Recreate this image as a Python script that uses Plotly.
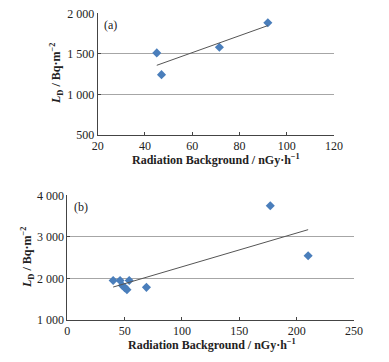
import numpy as np
import plotly.graph_objects as go

# Panel (a)
a_x = [45, 47, 71.5, 92]
a_y = [1512, 1244, 1582, 1884]
# Panel (b)
b_x = [40, 46, 48, 50, 52, 54, 69, 177, 210]
b_y = [1950, 1950, 1830, 1780, 1730, 1950, 1785, 3750, 2545]

x_title = "<b>Radiation Background / nGy·h<sup>−1</sup></b>"
y_title = "<b><i>L</i><sub>D</sub> / Bq·m<sup>−2</sup></b>"

W, H = 389, 362
SERIF = "Liberation Serif"
MARK = "#4a7ebb"

def trend(x, y):
    k, b = np.polyfit(x, y, 1)
    xs = np.array([min(x), max(x)])
    return xs, k * xs + b

fig = go.Figure()
fig.add_trace(go.Scatter(x=a_x, y=a_y, mode="markers", xaxis="x", yaxis="y",
                         marker=dict(symbol="diamond", size=7, color=MARK), showlegend=False))
tx, ty = trend(a_x, a_y)
fig.add_trace(go.Scatter(x=tx, y=ty, mode="lines", xaxis="x", yaxis="y",
                         line=dict(color="#555555", width=1), showlegend=False))
fig.add_trace(go.Scatter(x=b_x, y=b_y, mode="markers", xaxis="x2", yaxis="y2",
                         marker=dict(symbol="diamond", size=7, color=MARK), showlegend=False))
tx, ty = trend(b_x, b_y)
fig.add_trace(go.Scatter(x=tx, y=ty, mode="lines", xaxis="x2", yaxis="y2",
                         line=dict(color="#555555", width=1), showlegend=False))

def px(x):
    return x / W

def py(y):
    return 1 - y / H

common_x = dict(showgrid=False, zeroline=False, showline=True, linecolor="#444444", linewidth=1,
                ticks="inside", ticklen=3, tickcolor="#444444", automargin=False,
                tickfont=dict(family=SERIF, size=12, color="#222222"))
common_y = dict(showgrid=True, gridcolor="#a6a6a6", gridwidth=1, zeroline=False, showline=True,
                linecolor="#444444", linewidth=1, ticks="inside", ticklen=3, tickcolor="#444444",
                automargin=False, tickfont=dict(family=SERIF, size=12, color="#222222"))

def ann(text, x, y, angle=0):
    return dict(text=text, x=px(x), y=py(y), xref="paper", yref="paper", showarrow=False,
                xanchor="center", yanchor="middle", textangle=angle,
                font=dict(family=SERIF, size=12, color="#222222"))

fig.update_layout(
    template="none",
    width=W, height=H, margin=dict(l=0, r=0, t=0, b=0, pad=0),
    paper_bgcolor="white", plot_bgcolor="white",
    font=dict(family=SERIF, size=12, color="#222222"),
    separators=". ",
    xaxis=dict(domain=[px(97.7), px(334)], range=[20, 120], dtick=20, anchor="y", **common_x),
    yaxis=dict(domain=[py(135), py(13.3)], range=[500, 2000], dtick=500, tickformat=",d",
               anchor="x", **common_y),
    xaxis2=dict(domain=[px(67.3), px(354)], range=[0, 250], dtick=50, anchor="y2", **common_x),
    yaxis2=dict(domain=[py(320), py(195.3)], range=[1000, 4000], dtick=1000, tickformat=",d",
                anchor="x2", **common_y),
    annotations=[
        ann(x_title, 216, 159),
        ann(y_title, 56, 74, -90),
        ann("(a)", 110.5, 25),
        ann(x_title, 212, 344),
        ann(y_title, 27, 258, -90),
        ann("(b)", 81, 207),
    ],
)

fig.write_html("out.html", config={"displayModeBar": False},
               post_script="document.body.style.margin='0px';")
